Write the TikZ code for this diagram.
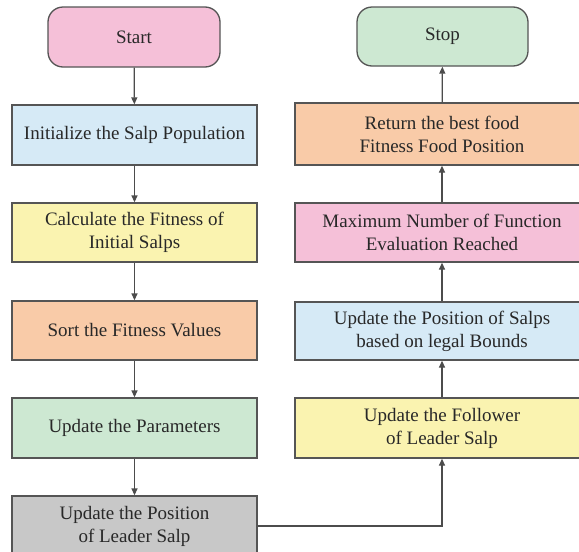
\documentclass[tikz,border=0pt]{standalone}
\usepackage{fontspec}
\setmainfont{Liberation Serif}
\usetikzlibrary{arrows.meta}
\definecolor{cpink}{RGB}{245,192,216}
\definecolor{cblue}{RGB}{214,234,246}
\definecolor{cyellow}{RGB}{250,243,176}
\definecolor{corange}{RGB}{249,203,168}
\definecolor{cgreen}{RGB}{205,232,210}
\definecolor{cgray}{RGB}{200,200,200}
\definecolor{cline}{RGB}{85,85,85}
\definecolor{ctext}{RGB}{40,40,40}
\tikzset{
  box/.style={draw=cline, line width=1.3pt, rectangle, align=center, text=ctext,
    font=\fontsize{19}{23}\selectfont, inner sep=0pt},
  term/.style={box, rounded corners=15pt},
  conn/.style={draw=cline!90!black, line width=1.3pt, -{Triangle[length=7pt,width=6pt]}}
}
\begin{document}
\begin{tikzpicture}[x=1pt,y=-1pt]
\clip (0,0) rectangle (579,552);
\fill[white] (0,0) rectangle (579,552);
\node[term, fill=cpink, minimum width=172pt, minimum height=60pt] (start) at (134,37) {Start};
\node[box, fill=cblue, minimum width=245pt, minimum height=60pt] (init) at (134.5,135) {Initialize the Salp Population};
\node[box, fill=cyellow, minimum width=245pt, minimum height=59pt] (calc) at (134.5,232.5) {Calculate the Fitness of\\Initial Salps};
\node[box, fill=corange, minimum width=245pt, minimum height=59pt] (sort) at (134.5,330.5) {Sort the Fitness Values};
\node[box, fill=cgreen, minimum width=245pt, minimum height=60pt] (param) at (134.5,428) {Update the Parameters};
\node[box, fill=cgray, minimum width=245pt, minimum height=60pt] (leader) at (134.5,526) {Update the Position\\of Leader Salp};
\node[term, fill=cgreen, minimum width=171pt, minimum height=59pt] (stop) at (442.5,36.5) {Stop};
\node[box, fill=corange, minimum width=294pt, minimum height=62pt] (ret) at (442,134) {Return the best food\\Fitness Food Position};
\node[box, fill=cpink, minimum width=294pt, minimum height=59pt] (max) at (442,232.5) {Maximum Number of Function\\Evaluation Reached};
\node[box, fill=cblue, minimum width=294pt, minimum height=58pt] (salps) at (442,331) {Update the Position of Salps\\based on legal Bounds};
\node[box, fill=cyellow, minimum width=294pt, minimum height=60pt] (follow) at (442,428) {Update the Follower\\of Leader Salp};
\draw[conn] (start) -- (init);
\draw[conn] (init) -- (calc);
\draw[conn] (calc) -- (sort);
\draw[conn] (sort) -- (param);
\draw[conn] (param) -- (leader);
\draw[conn] (leader.east) -| (follow.south);
\draw[conn] (follow) -- (salps);
\draw[conn] (salps) -- (max);
\draw[conn] (max) -- (ret);
\draw[conn] (ret) -- (stop);
\end{tikzpicture}
\end{document}
